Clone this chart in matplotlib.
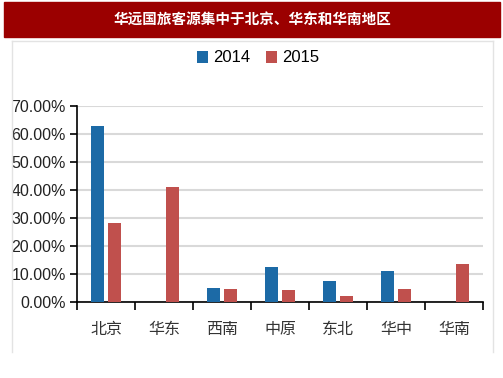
import numpy as np
import matplotlib.pyplot as plt
from matplotlib.patches import Rectangle
from matplotlib.lines import Line2D
from matplotlib.ticker import FuncFormatter, MultipleLocator

plt.rcParams['font.family'] = ['Noto Sans CJK SC', 'DejaVu Sans']

regions = ['北京', '华东', '西南', '中原', '东北', '华中', '华南']
share_2014 = [62.8, 0, 4.9, 12.6, 7.4, 11.1, 0]
share_2015 = [28.3, 41.1, 4.6, 4.2, 2.3, 4.5, 13.7]
title = '华远国旅客源集中于北京、华东和华南地区'

blue = '#1c6aa6'
red = '#c0504d'
num_font = ['Liberation Sans Narrow', 'Liberation Sans', 'DejaVu Sans']

W, H = 503, 378
fig = plt.figure(figsize=(W / 100, H / 100), dpi=100)

# title banner
fig.patches.append(Rectangle((4 / W, 1 - 37 / H), 496 / W, 35 / H,
                             transform=fig.transFigure, color='#9b0000', zorder=0))
fig.text(252 / W, 1 - 19.5 / H, title, color='white', fontsize=10.5,
         fontweight='bold', ha='center', va='center')

# light panel border
for xs, ys in [((12, 12), (41, 352)), ((493, 493), (41, 352)), ((12, 493), (41, 41))]:
    fig.add_artist(Line2D([x / W for x in xs], [1 - y / H for y in ys],
                          transform=fig.transFigure, color='#e3e3e3', lw=1))

ax = fig.add_axes([77 / W, 1 - 302 / H, (483 - 77) / W, (302 - 106) / H])
x = np.arange(len(regions))
bw = 0.225
ax.bar(x - 0.14, share_2014, bw, color=blue, label='2014', zorder=3)
ax.bar(x + 0.14, share_2015, bw, color=red, label='2015', zorder=3)

ax.set_xlim(-0.5, len(regions) - 0.5)
ax.set_ylim(0, 70)
ax.yaxis.set_major_locator(MultipleLocator(10))
ax.yaxis.set_major_formatter(FuncFormatter(lambda v, p: f'{v:.2f}%'))
ax.grid(axis='y', color='#d9d9d9', lw=1.5, zorder=0)
for s in ['top', 'right']:
    ax.spines[s].set_visible(False)
for s in ['left', 'bottom']:
    ax.spines[s].set_color('black')
    ax.spines[s].set_linewidth(1.2)

ax.set_xticks(np.arange(len(regions) + 1) - 0.5)
ax.set_xticklabels([])
ax.tick_params(axis='x', length=6, width=1.2, direction='out')
ax.set_xticks(x, minor=True)
ax.set_xticklabels(regions, minor=True, fontsize=11.5, color='#333333')
ax.tick_params(axis='x', which='minor', length=0, pad=14)
ax.tick_params(axis='y', length=5, width=1.2, direction='out', pad=3)
for lab in ax.get_yticklabels():
    lab.set_family(num_font)
    lab.set_fontsize(11.5)
    lab.set_color('#222222')

leg = fig.legend(loc='center', bbox_to_anchor=(258 / W, 1 - 58 / H), ncol=2,
                 frameon=False, handlelength=0.7, handleheight=0.7,
                 handletextpad=0.3, columnspacing=0.9,
                 prop={'family': num_font, 'size': 12})

fig.savefig('out.png', dpi=100)
